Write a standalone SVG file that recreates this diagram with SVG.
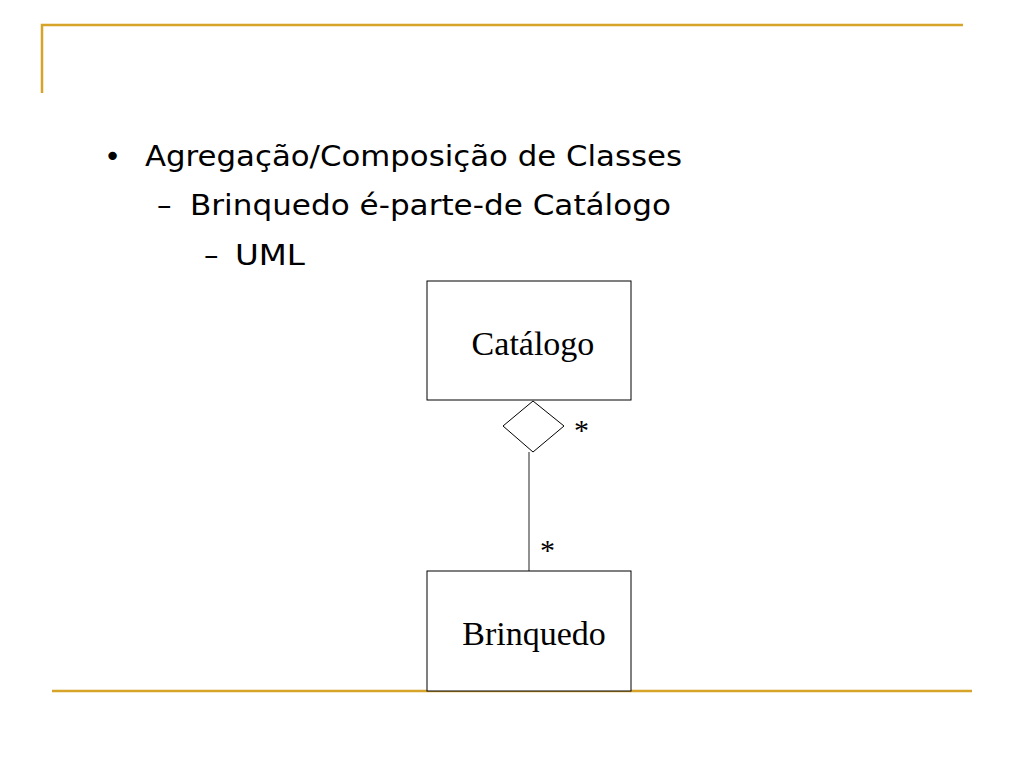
<svg xmlns="http://www.w3.org/2000/svg" width="1024" height="768" viewBox="0 0 1024 768">
<style>
.rule{stroke:#D6A428;stroke-width:2.5;fill:none}
.bul{font-family:"DejaVu Sans","Open Sans",sans-serif;font-size:29px;fill:#000}
.box{fill:#fff;stroke:#000;stroke-width:1}
.lbl{font-family:"Liberation Serif","Times New Roman",serif;font-size:34px;fill:#000}
.mult{font-family:"Liberation Serif",serif;font-size:30px;fill:#000}
.conn{stroke:#555;stroke-width:1.3;fill:none}
</style>
<rect width="1024" height="768" fill="#fff"/>
<g id="frame">
<polyline class="rule" points="42,93 42,25 963,25"/>
<line class="rule" x1="52" y1="691" x2="972" y2="691"/>
</g>
<g id="bullets">
<text class="bul" x="104" y="166">•</text>
<text class="bul" x="145" y="166" textLength="537" lengthAdjust="spacingAndGlyphs">Agregação/Composição de Classes</text>
<text class="bul" x="157" y="215">–</text>
<text class="bul" x="190" y="215" textLength="481" lengthAdjust="spacingAndGlyphs">Brinquedo é-parte-de Catálogo</text>
<text class="bul" x="204" y="265">–</text>
<text class="bul" x="235" y="265" textLength="70" lengthAdjust="spacingAndGlyphs">UML</text>
</g>
<g id="connectors">
<line class="conn" x1="529" y1="452" x2="529" y2="571"/>
<polygon points="533,401 564,426 533,452 503,426" fill="#fff" stroke="#000" stroke-width="1"/>
<text class="mult" x="574" y="440">*</text>
<text class="mult" x="540" y="560">*</text>
</g>
<g id="catalogo">
<rect class="box" x="427" y="281" width="204" height="119"/>
<text class="lbl" x="533" y="355" text-anchor="middle">Catálogo</text>
</g>
<g id="brinquedo">
<rect class="box" x="427" y="571" width="204" height="120"/>
<text class="lbl" x="534" y="645" text-anchor="middle">Brinquedo</text>
</g>
</svg>
